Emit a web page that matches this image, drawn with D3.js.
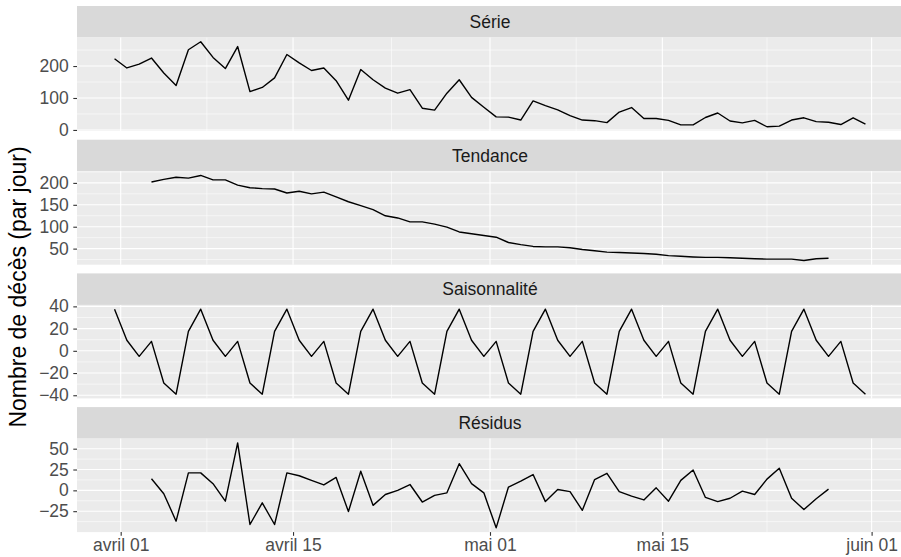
<!DOCTYPE html>
<html>
<head>
  <meta charset="utf-8">
  <style>
    body { margin: 0; background: #ffffff; }
    svg { display: block; font-family: "Liberation Sans", Arial, sans-serif; }
  </style>
</head>
<body>
  <div id="chart"></div>

  <script src="https://cdn.jsdelivr.net/npm/d3@7/dist/d3.min.js"></script>
  <script>
    // daily points, Mar 31 -> May 31, stamped at noon (as in the source plot)
    var dates = d3.timeDay.range(new Date(2020, 2, 31), new Date(2020, 5, 1))
        .map(function(d) { return d3.timeHour.offset(d, 12); });

    var panelNames = ["Série", "Tendance", "Saisonnalité", "Résidus"];

    var serie = [223, 194, 206, 225, 178, 139, 251, 276, 227, 192,
                 261, 120, 133, 163, 236, 210, 186, 194, 154, 93,
                 189, 157, 131, 115, 126, 68, 62, 115, 157, 102,
                 71, 41, 40, 31, 91, 76, 63, 45, 31, 29,
                 23, 56, 70, 36, 36, 30, 16, 16, 39, 53,
                 28, 22, 30, 10, 12, 31, 38, 26, 24, 17,
                 38, 18];

    var tendance = [null, null, null, 202, 208, 213, 211, 217, 207, 207,
                    195, 189, 187, 186, 177, 181, 175, 179, 168, 157,
                    148, 139, 125, 120, 111, 111, 106, 99, 88, 84,
                    80, 76, 64, 59, 55, 54, 54, 52, 48, 45,
                    42, 41, 40, 39, 37, 34, 32.5, 31, 30, 30,
                    29, 28, 27, 26, 26, 26, 23, 27, 28, null,
                    null, null];

    var saisonnalite = [37.5, 9.5, -5, 8.5, -29, -39, 17.5,
                        37.5, 9.5, -5, 8.5, -29, -39, 17.5,
                        37.5, 9.5, -5, 8.5, -29, -39, 17.5,
                        37.5, 9.5, -5, 8.5, -29, -39, 17.5,
                        37.5, 9.5, -5, 8.5, -29, -39, 17.5,
                        37.5, 9.5, -5, 8.5, -29, -39, 17.5,
                        37.5, 9.5, -5, 8.5, -29, -39, 17.5,
                        37.5, 9.5, -5, 8.5, -29, -39, 17.5,
                        37.5, 9.5, -5, 8.5, -29, -39];

    var residus = [null, null, null, 14, -4, -37, 21, 21, 8, -13,
                   57, -41, -15, -41, 21, 17.5, 12, 6.5, 15.5, -25.5,
                   23, -18, -5, 0, 7, -14, -6, -3, 32, 8,
                   -3, -45, 4, 11, 19, -13.5, 1, -1.5, -24, 13,
                   20.5, -1.5, -7, -11.5, 3, -13, 12, 24.5, -8.5, -13.5,
                   -9.5, -1, -5, 13.5, 26.5, -9.5, -23, -10, 1.5, null,
                   null, null];

    var yTicks = [[0, 100, 200], [50, 100, 150, 200], [-40, -20, 0, 20, 40], [-25, 0, 25, 50]];

    var xTickDates = [new Date(2020, 3, 1), new Date(2020, 3, 15), new Date(2020, 4, 1),
                      new Date(2020, 4, 15), new Date(2020, 5, 1)];
    var xTickLabels = ["avril 01", "avril 15", "mai 01", "mai 15", "juin 01"];

    var yTitle = "Nombre de décès (par jour)";

    var series = [serie, tendance, saisonnalite, residus];

    var W = 901, H = 557;
    var left = 77, right = 903;
    var top0 = 6, stripH = 31.5, panelH = 93.5, gap = 8.7;
    var tickFont = 17.5, stripFont = 17.5, titleFont = 23;

    var svg = d3.select("#chart")
        .append("svg")
        .attr("width", W)
        .attr("height", H);

    // x scale with ggplot-like 5% expansion
    var t0 = dates[0].getTime(), t1 = dates[dates.length - 1].getTime();
    var pad = (t1 - t0) * 0.05;
    var x = d3.scaleTime()
        .domain([new Date(t0 - pad), new Date(t1 + pad)])
        .range([left, right]);

    var xMinor = [];
    for (var i = 0; i < xTickDates.length - 1; i++) {
      xMinor.push(new Date((xTickDates[i].getTime() + xTickDates[i + 1].getTime()) / 2));
    }

    series.forEach(function(vals, k) {
      var stripTop = top0 + k * (stripH + panelH + gap);
      var pTop = stripTop + stripH;
      var pBot = pTop + panelH;

      var ext = d3.extent(vals.filter(function(v) { return v != null; }));
      var ypad = (ext[1] - ext[0]) * 0.05;
      var y = d3.scaleLinear()
          .domain([ext[0] - ypad, ext[1] + ypad])
          .range([pBot, pTop]);

      // strip
      svg.append("rect")
          .attr("x", left).attr("y", stripTop)
          .attr("width", right - left).attr("height", stripH)
          .attr("fill", "#d9d9d9");
      svg.append("text")
          .attr("x", (left + right) / 2)
          .attr("y", stripTop + stripH / 2)
          .attr("dy", "0.35em")
          .attr("text-anchor", "middle")
          .attr("fill", "#1a1a1a")
          .style("font-size", stripFont + "px")
          .text(panelNames[k]);

      // panel background
      var g = svg.append("g");
      g.append("rect")
          .attr("x", left).attr("y", pTop)
          .attr("width", right - left).attr("height", panelH)
          .attr("fill", "#ebebeb");

      // minor grid
      var tk = yTicks[k];
      var step = tk[1] - tk[0];
      var yMinor = [];
      for (var v = tk[0] - step / 2; v <= tk[tk.length - 1] + step; v += step) {
        if (v >= y.domain()[0] && v <= y.domain()[1]) yMinor.push(v);
      }
      g.selectAll(".ymin").data(yMinor).enter().append("line")
          .attr("x1", left).attr("x2", right)
          .attr("y1", d => y(d)).attr("y2", d => y(d))
          .attr("stroke", "#ffffff").attr("stroke-width", 0.55);
      g.selectAll(".xmin").data(xMinor).enter().append("line")
          .attr("x1", d => x(d)).attr("x2", d => x(d))
          .attr("y1", pTop).attr("y2", pBot)
          .attr("stroke", "#ffffff").attr("stroke-width", 0.55);

      // major grid
      g.selectAll(".ymaj").data(tk).enter().append("line")
          .attr("x1", left).attr("x2", right)
          .attr("y1", d => y(d)).attr("y2", d => y(d))
          .attr("stroke", "#ffffff").attr("stroke-width", 1.1);
      g.selectAll(".xmaj").data(xTickDates).enter().append("line")
          .attr("x1", d => x(d)).attr("x2", d => x(d))
          .attr("y1", pTop).attr("y2", pBot)
          .attr("stroke", "#ffffff").attr("stroke-width", 1.1);

      // line
      var line = d3.line()
          .defined(d => d[1] != null)
          .x(d => x(d[0]))
          .y(d => y(d[1]));
      g.append("path")
          .datum(dates.map(function(d, i) { return [d, vals[i]]; }))
          .attr("fill", "none")
          .attr("stroke", "#000000")
          .attr("stroke-width", 1.4)
          .attr("stroke-linejoin", "round")
          .attr("d", line);

      // y axis
      var ya = svg.append("g")
          .attr("transform", "translate(" + left + ",0)")
          .call(d3.axisLeft(y).tickValues(tk).tickSize(3.7).tickPadding(4.5)
                .tickFormat(function(d) { return d < 0 ? "\u2212" + Math.abs(d) : d; }));
      ya.select(".domain").remove();
      ya.selectAll(".tick line").attr("stroke", "#333333").attr("stroke-width", 1.1);
      ya.selectAll(".tick text")
          .attr("fill", "#4d4d4d")
          .style("font-size", tickFont + "px")
          .style("font-family", "Liberation Sans, Arial, sans-serif");

      if (k === series.length - 1) {
        var xa = svg.append("g")
            .attr("transform", "translate(0," + pBot + ")")
            .call(d3.axisBottom(x).tickValues(xTickDates).tickSize(3.7).tickPadding(3)
                  .tickFormat(function(d, i) { return xTickLabels[i]; }));
        xa.select(".domain").remove();
        xa.selectAll(".tick line").attr("stroke", "#333333").attr("stroke-width", 1.1);
        xa.selectAll(".tick text")
            .attr("fill", "#4d4d4d")
            .style("font-size", tickFont + "px")
            .style("font-family", "Liberation Sans, Arial, sans-serif");
      }
    });

    svg.append("text")
        .attr("transform", "translate(26,287) rotate(-90)")
        .attr("text-anchor", "middle")
        .attr("fill", "#000000")
        .style("font-size", titleFont + "px")
        .text(yTitle);
  </script>
</body>
</html>
